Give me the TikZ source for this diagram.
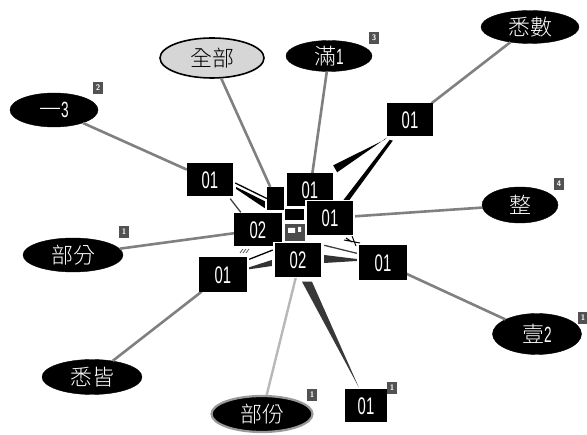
\documentclass[tikz,border=0pt]{standalone}
\usepackage{fontspec}
\usetikzlibrary{shapes.geometric,calc}
\newfontfamily\cjk{Noto Sans CJK TC Light}
\newfontfamily\narrowf[FakeStretch=0.62]{Liberation Sans}
\begin{document}
\begin{tikzpicture}[x=1pt,y=-1pt,
  ell/.style={ellipse,fill=black,draw=black,text=white,inner sep=0pt,font=\cjk\fontsize{22}{22}\selectfont},
  box/.style={rectangle,fill=black,text=white,inner sep=0pt,minimum width=46pt,minimum height=33pt,font=\narrowf\fontsize{24}{24}\selectfont},
  ph/.style={rectangle,inner sep=0pt,minimum width=46pt,minimum height=33pt},
  badge/.style={rectangle,fill=black!68,text=white,inner sep=0pt,minimum width=10pt,minimum height=12pt,font=\sffamily\bfseries\fontsize{8}{8}\selectfont},
  conn/.style={draw=black!50,line width=2.6pt},
  lconn/.style={draw=black!28,line width=2.4pt},
  thin/.style={draw=black!75,line width=1.3pt},
  wedge/.style={fill=black}]
\useasboundingbox[fill=white] (0,0) rectangle (587,435);

% ellipses
\node[ell,fill=black!16,text=black,line width=1.6pt,minimum width=104pt,minimum height=40pt] (quanbu) at (212,58) {全部};
\node[ell,minimum width=86pt,minimum height=31pt] (man) at (329,56) {滿{\narrowf 1}};
\node[ell,minimum width=98pt,minimum height=33pt] (xishu) at (530,27) {悉數};
\node[ell,minimum width=88pt,minimum height=34pt] (yi3) at (54,110) {一{\narrowf 3}};
\node[ell,minimum width=100pt,minimum height=34pt] (bufen) at (73,255) {部分};
\node[ell,minimum width=100pt,minimum height=35pt] (xijie) at (92,377) {悉皆};
\node[ell,draw=black!40,line width=2.2pt,minimum width=101pt,minimum height=36pt] (bufen2) at (262,414) {部份};
\node[ell,minimum width=76pt,minimum height=36pt] (zheng) at (520,205) {整};
\node[ell,minimum width=89pt,minimum height=41pt] (yi2) at (537,334) {壹{\narrowf 2}};

% badges
\node[badge] (bg3) at (374,38) {3};
\node[badge] (bg2) at (98,88) {2};
\node[badge] (bg1a) at (124,232) {1};
\node[badge] (bg4) at (559,184) {4};
\node[badge] (bg1b) at (583,318) {1};
\node[badge] (bg1c) at (312,395) {1};
\node[badge] (bg1d) at (392,388) {1};

% boxes (positions)
\coordinate (ptr) at (410,120);
\coordinate (pl) at (210,180);
\coordinate (pct) at (310,190);
\coordinate (pcr) at (330,218);
\coordinate (pl02) at (258,230);
\coordinate (pb02) at (298,260);
\coordinate (pr) at (383,263);
\coordinate (pll) at (223,275);
\coordinate (pbot) at (366,406);

% placeholders to clip connectors
\node[ph] (btr) at (ptr) {};
\node[ph] (bl) at (pl) {};
\node[ph] (bct) at (pct) {};
\node[ph] (bcr) at (pcr) {};
\node[ph] (bl02) at (pl02) {};
\node[ph] (bb02) at (pb02) {};
\node[ph] (br) at (pr) {};
\node[ph] (bll) at (pll) {};
\node[ph,minimum width=42pt] (bbot) at (pbot) {};
\node[rectangle,inner sep=0pt,minimum width=17pt,minimum height=23pt] (sqa) at (275.5,198.5) {};

% connectors
\draw[conn] (quanbu) -- (sqa);
\draw[conn] (man) -- (bct);
\draw[conn] (xishu) -- (btr);
\draw[conn] (yi3) -- (bl);
\draw[conn] (bufen) -- (bl02);
\draw[conn] (xijie) -- (bll);
\draw[lconn] (bufen2) -- ($(bb02.south)+(-2,0)$);
\draw[conn] (zheng) -- (bcr);
\draw[conn] (yi2) -- (br);
\draw[thin] ($(bl.south east)+(-3,2)$) -- ($(bl02.north west)+(6,-1)$);

% wedges (tapered connectors)
\fill[wedge] ($(btr.south west)+(-2,3)$) -- ($(btr.south west)+(0,1)$) -- ($(bct.north east)+(4,-1)$) -- ($(bct.north east)+(0,-8)$) -- cycle;
\fill[wedge] ($(btr.south west)+(6,4)$) -- ($(btr.south west)+(3,3)$) -- ($(bcr.north east)+(-10,-1)$) -- ($(bcr.north east)+(-4,-1)$) -- cycle;
\draw[thin,draw=black] ($(bl.east)+(2,3)$) -- (sqa.west);
\fill[wedge] ($(bl.east)+(3,7)$) -- ($(bl.east)+(3,9)$) -- ($(sqa.south west)+(-2,-2)$) -- ($(sqa.south west)+(-2,-9)$) -- cycle;
\draw[thin] ($(br.north west)+(-3,7)$) -- ($(bb02.north east)+(3,2)$);
\fill[black!80] ($(br.west)+(-3,-4)$) -- ($(br.west)+(-3,-2)$) -- ($(bb02.east)+(3,3)$) -- ($(bb02.east)+(3,-5)$) -- cycle;
\draw[thin,draw=black] ($(bll.north east)+(3,1)$) -- ($(bb02.west)+(-2,-10)$);
\fill[black!80] ($(bll.north east)+(3,9)$) -- ($(bll.north east)+(3,11)$) -- ($(bb02.west)+(-3,6)$) -- ($(bb02.west)+(-3,0)$) -- cycle;
\fill[black!78] ($(bb02.south)+(4,5)$) -- ($(bb02.south)+(14,5)$) -- ($(bbot.north west)+(14,-2)$) -- cycle;
% small marks
\draw[black!70,line width=0.7pt] (240,253) -- (243,249) (243,253) -- (246,249) (246,253) -- (249,249);
\draw[black,line width=1pt] (344,240) -- (360,243) (352,236) -- (356,246) (346,238) -- (352,242);

% visible boxes
\node[box] at (ptr) {01};
\node[box] at (pl) {01};
\fill[black] (sqa.north west) rectangle (sqa.south east);
\node[box] at (pct) {01};
\fill[black] (285,209) rectangle (304,220);
\fill[black!70] (285,224) rectangle (305,241);
\fill[white] (288,228) rectangle (295,233) (298,227) rectangle (301,232);
\node[box,minimum width=48pt,minimum height=35pt,draw=white,line width=1.5pt] at (pcr) {01};
\node[box,minimum width=48pt] at (pl02) {02};
\node[box,minimum width=48pt,minimum height=35pt,draw=white,line width=1.5pt] at (pb02) {02};
\node[box,minimum width=48pt,minimum height=35pt] at (pr) {01};
\node[box,minimum width=48pt,minimum height=35pt] at (pll) {01};
\node[box,minimum width=42pt] at (pbot) {01};
\end{tikzpicture}
\end{document}
